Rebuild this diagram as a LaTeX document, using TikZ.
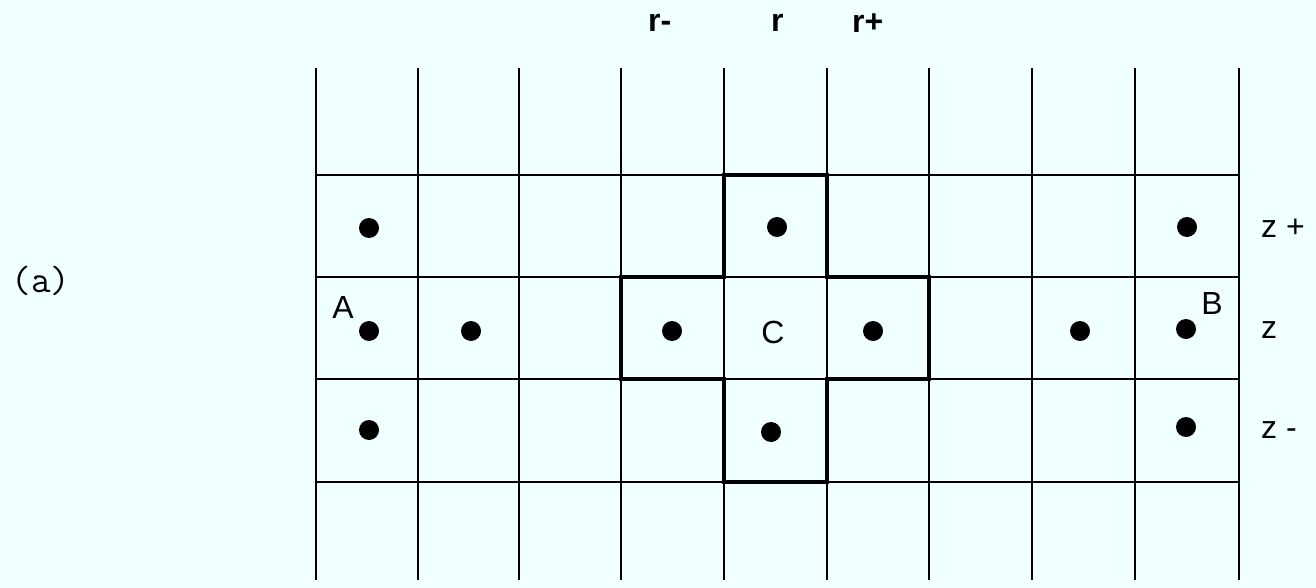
\documentclass[tikz,border=0pt]{standalone}
\usepackage{fontspec}
\setmainfont{Liberation Sans}
\definecolor{bg}{HTML}{F0FFFF}
\begin{document}
\begin{tikzpicture}[x=1pt,y=-1pt,
  gridline/.style={line width=2.9pt},
  boldline/.style={line width=4.8pt, line join=miter},
  dot/.style={circle,fill=black,inner sep=0pt,minimum size=20pt},
  lab/.style={font=\fontsize{32}{32}\selectfont, inner sep=0pt},
  rlab/.style={font=\bfseries\fontsize{32}{32}\selectfont, inner sep=0pt},
  monolab/.style={font=\ttfamily\fontsize{38}{38}\selectfont, inner sep=0pt}]
\fill[bg] (0,0) rectangle (1316,588);
\useasboundingbox (0,0) rectangle (1316,588);
\foreach \x in {316,418,519,621,724,827,929,1032,1135,1239}
  \draw[gridline] (\x,68) -- (\x,580);
\foreach \y in {175,277,379,482}
  \draw[gridline] (316,\y) -- (1239,\y);
\draw[boldline] (724,175) -- (827,175) -- (827,277) -- (929,277) -- (929,379)
  -- (827,379) -- (827,482) -- (724,482) -- (724,379) -- (621,379)
  -- (621,277) -- (724,277) -- cycle;
% dots
\node[dot] (d1) at (369,228) {};
\node[dot] (d2) at (777,227) {};
\node[dot] (d3) at (1187,227) {};
\node[dot] (d4) at (369,331) {};
\node[dot] (d5) at (471,331) {};
\node[dot] (d6) at (672,331) {};
\node[dot] (d7) at (873,331) {};
\node[dot] (d8) at (1080,331) {};
\node[dot] (d9) at (1186,329) {};
\node[dot] (d10) at (369,430) {};
\node[dot] (d11) at (771,432) {};
\node[dot] (d12) at (1186,427) {};
% labels
\node[lab] (A) at (343,307) {A};
\node[lab] (B) at (1212,303) {B};
\node[lab] (C) at (773,332) {C};
\node[rlab,anchor=west] (rm) at (648,23) {r-};
\node[rlab,anchor=west] (r) at (771,23) {r};
\node[rlab,anchor=west] (rp) at (852,23) {r+};
\node[lab,anchor=west] (zp) at (1261,228) {z +};
\node[lab,anchor=west] (z) at (1261,330) {z};
\node[lab,anchor=west] (zm) at (1261,430) {z -};
\node[monolab] (a) at (41,281) {(a)};
\end{tikzpicture}
\end{document}
